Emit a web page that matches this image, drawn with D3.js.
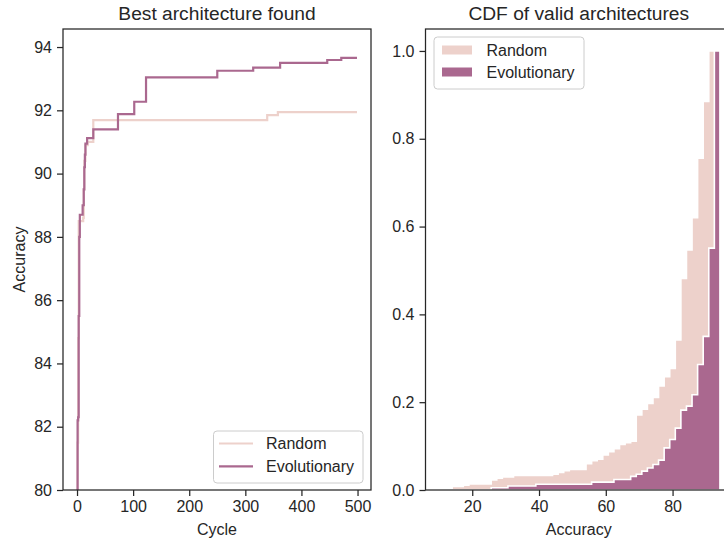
<!DOCTYPE html>
<html>
<head>
<meta charset="utf-8">
<script src="https://cdn.jsdelivr.net/npm/d3@7"></script>
<style>
  html, body { margin: 0; padding: 0; background: #fff; }
  svg { display: block; font-family: "Liberation Sans", Arial, sans-serif; }
</style>
</head>
<body>
<svg id="chart" width="724" height="541"></svg>
<script>
// ---------- data ----------
const seriesNames = ["Random", "Evolutionary"];
const seriesColors = ["#edd1cb", "#aa688f"];

// Left panel: best accuracy found so far (change points of the running max)
const randomCycles = [0, 1, 2, 3, 11, 12, 13, 15, 19, 29, 339, 358, 499];
const randomBest   = [79.0, 81.5, 84.8, 88.5, 88.6, 89.5, 90.4, 90.9, 91.0, 91.69, 91.85, 91.94, 91.94];
const evoCycles = [0, 1, 2, 3, 4, 5, 10, 12, 13, 14, 15, 18, 29, 73, 102, 123, 250, 314, 362, 446, 471, 499];
const evoBest   = [78.0, 82.2, 82.3, 85.5, 88.0, 88.7, 89.0, 89.5, 90.2, 90.6, 90.95, 91.12, 91.40, 91.88, 92.27, 93.04, 93.25, 93.35, 93.50, 93.59, 93.66, 93.66];

const cycleTicks = [0, 100, 200, 300, 400, 500];
const bestTicks = [80, 82, 84, 86, 88, 90, 92, 94];

// Right panel: cumulative fraction per accuracy bin (48 common bins)
const cdfBinStart = 13.98;
const cdfBinWidth = 1.671;
const randomCdf = [0.008, 0.008, 0.011, 0.014, 0.014, 0.014, 0.014, 0.023, 0.027, 0.030,
                   0.030, 0.033, 0.033, 0.033, 0.033, 0.033, 0.033, 0.033, 0.036, 0.040,
                   0.044, 0.047, 0.047, 0.047, 0.060, 0.067, 0.070, 0.080, 0.087, 0.094,
                   0.104, 0.108, 0.111, 0.171, 0.184, 0.197, 0.211, 0.237, 0.258, 0.277,
                   0.342, 0.482, 0.547, 0.620, 0.756, 0.885, 1.000, 1.000];
const evoCdf    = [0, 0, 0, 0, 0, 0, 0, 0.005, 0.005, 0.005,
                   0.009, 0.009, 0.009, 0.009, 0.009, 0.013, 0.013, 0.013, 0.013, 0.013,
                   0.013, 0.013, 0.013, 0.013, 0.013, 0.018, 0.018, 0.018, 0.018, 0.024,
                   0.024, 0.024, 0.031, 0.036, 0.043, 0.050, 0.058, 0.068, 0.096, 0.115,
                   0.141, 0.182, 0.191, 0.217, 0.286, 0.350, 0.551, 1.000];
const accTicks = [20, 40, 60, 80];
const cdfTicks = [0.0, 0.2, 0.4, 0.6, 0.8, 1.0];

// ---------- layout ----------
const svg = d3.select("#chart");
const ink = "#262626";
const L = {x0: 63, x1: 371, y0: 29, y1: 490};
const R = {x0: 425.5, x1: 734, y0: 29, y1: 490};

const xL = d3.scaleLinear().domain([-25, 524]).range([L.x0, L.x1]);
const yL = d3.scaleLinear().domain([80, 94.57]).range([L.y1, L.y0]);
const xR = d3.scaleLinear().domain([6, 98.4]).range([R.x0, R.x1]);
const yR = d3.scaleLinear().domain([0, 1.05]).range([R.y1, R.y0]);

const defs = svg.append("defs");
defs.append("clipPath").attr("id", "clipL").append("rect")
  .attr("x", L.x0).attr("y", L.y0).attr("width", L.x1 - L.x0).attr("height", L.y1 - L.y0);
defs.append("clipPath").attr("id", "clipR").append("rect")
  .attr("x", R.x0).attr("y", R.y0).attr("width", R.x1 - R.x0).attr("height", R.y1 - R.y0);

function styleAxis(g) {
  g.selectAll(".domain").remove();
  g.selectAll(".tick line").attr("stroke", ink).attr("stroke-width", 1.25);
  g.selectAll(".tick text").attr("fill", ink).attr("font-size", 16)
    .attr("font-family", '"Liberation Sans", Arial, sans-serif');
}

// ---------- left panel ----------
const gL = svg.append("g");
const lineL = d3.line().x(d => xL(d[0])).y(d => yL(d[1])).curve(d3.curveStepAfter);
const leftSeries = [d3.zip(randomCycles, randomBest), d3.zip(evoCycles, evoBest)];
const plotL = gL.append("g").attr("clip-path", "url(#clipL)");
leftSeries.forEach((pts, i) => {
  plotL.append("path").datum(pts).attr("d", lineL)
    .attr("fill", "none").attr("stroke", seriesColors[i]).attr("stroke-width", 2.2)
    .attr("stroke-linejoin", "miter");
});

gL.append("g").attr("transform", `translate(0,${L.y1})`)
  .call(d3.axisBottom(xL).tickValues(cycleTicks).tickSize(6).tickPadding(5))
  .call(styleAxis);
gL.append("g").attr("transform", `translate(${L.x0},0)`)
  .call(d3.axisLeft(yL).tickValues(bestTicks).tickSize(6).tickPadding(5))
  .call(styleAxis);

gL.append("rect").attr("x", L.x0).attr("y", L.y0).attr("width", L.x1 - L.x0).attr("height", L.y1 - L.y0)
  .attr("fill", "none").attr("stroke", ink).attr("stroke-width", 1.25);

gL.append("text").attr("x", (L.x0 + L.x1) / 2).attr("y", 20).attr("text-anchor", "middle")
  .attr("font-size", 19.2).attr("fill", ink).text("Best architecture found");
gL.append("text").attr("x", (L.x0 + L.x1) / 2).attr("y", 535).attr("text-anchor", "middle")
  .attr("font-size", 16).attr("fill", ink).text("Cycle");
gL.append("text").attr("transform", `translate(25,${(L.y0 + L.y1) / 2}) rotate(-90)`)
  .attr("text-anchor", "middle").attr("font-size", 16).attr("fill", ink).text("Accuracy");

// left legend
const legL = gL.append("g");
legL.append("rect").attr("x", 213.5).attr("y", 431).attr("width", 149.5).attr("height", 52)
  .attr("rx", 3.5).attr("fill", "#fff").attr("fill-opacity", 0.8)
  .attr("stroke", "#cccccc").attr("stroke-width", 1);
seriesNames.forEach((name, i) => {
  const cy = 443.5 + i * 22.8;
  legL.append("line").attr("x1", 219).attr("x2", 253).attr("y1", cy).attr("y2", cy)
    .attr("stroke", seriesColors[i]).attr("stroke-width", 2.2);
  legL.append("text").attr("x", 266).attr("y", cy + 5.8).attr("font-size", 16).attr("fill", ink).text(name);
});

// ---------- right panel ----------
const gR = svg.append("g");
const edges = d3.range(randomCdf.length + 1).map(k => cdfBinStart + k * cdfBinWidth);
function stepPoints(h) {
  const pts = h.map((v, k) => [edges[k], v]);
  pts.push([edges[h.length], h[h.length - 1]]);
  return pts;
}
const areaR = d3.area().x(d => xR(d[0])).y0(yR(0)).y1(d => yR(d[1])).curve(d3.curveStepAfter);
const plotR = gR.append("g").attr("clip-path", "url(#clipR)");
[randomCdf, evoCdf].forEach((h, i) => {
  plotR.append("path").datum(stepPoints(h)).attr("d", areaR)
    .attr("fill", seriesColors[i]).attr("stroke", "#ffffff").attr("stroke-width", 1.6)
    .attr("stroke-linejoin", "miter");
});

gR.append("g").attr("transform", `translate(0,${R.y1})`)
  .call(d3.axisBottom(xR).tickValues(accTicks).tickSize(6).tickPadding(5))
  .call(styleAxis);
gR.append("g").attr("transform", `translate(${R.x0},0)`)
  .call(d3.axisLeft(yR).tickValues(cdfTicks).tickFormat(d3.format(".1f")).tickSize(6).tickPadding(5))
  .call(styleAxis);

gR.append("rect").attr("x", R.x0).attr("y", R.y0).attr("width", R.x1 - R.x0).attr("height", R.y1 - R.y0)
  .attr("fill", "none").attr("stroke", ink).attr("stroke-width", 1.25);

gR.append("text").attr("x", (R.x0 + 732) / 2).attr("y", 20).attr("text-anchor", "middle")
  .attr("font-size", 19.2).attr("fill", ink).text("CDF of valid architectures");
gR.append("text").attr("x", (R.x0 + 732) / 2).attr("y", 535).attr("text-anchor", "middle")
  .attr("font-size", 16).attr("fill", ink).text("Accuracy");

// right legend
const legR = gR.append("g");
legR.append("rect").attr("x", 434).attr("y", 37).attr("width", 150).attr("height", 52)
  .attr("rx", 3.5).attr("fill", "#fff").attr("fill-opacity", 0.8)
  .attr("stroke", "#cccccc").attr("stroke-width", 1);
seriesNames.forEach((name, i) => {
  const cy = 50 + i * 22;
  legR.append("rect").attr("x", 442).attr("y", cy - 4.5).attr("width", 30).attr("height", 9)
    .attr("fill", seriesColors[i]);
  legR.append("text").attr("x", 486.5).attr("y", cy + 5.8).attr("font-size", 16).attr("fill", ink).text(name);
});
</script>
</body>
</html>
